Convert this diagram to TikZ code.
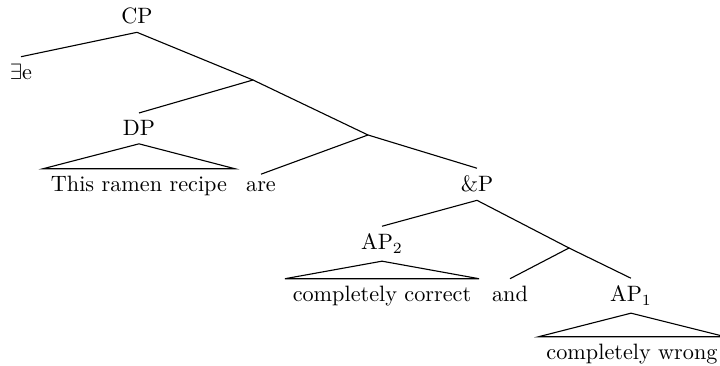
\documentclass[tikz,border=0pt]{standalone}
\begin{document}
\begin{tikzpicture}[x=0.45pt,y=-0.45pt,
  lbl/.style={anchor=base,inner sep=3.33pt},
  edge/.style={draw,line width=0.5pt}]
\useasboundingbox (0,0) rectangle (720,366);
% labels
\node[lbl] (cp) at (137,24) {CP};
\node[lbl] (ex) at (21,80) {$\exists$e};
\node[lbl] (dp) at (139,136) {DP};
\node[lbl] (dpt) at (139,192) {This ramen recipe};
\node[lbl] (are) at (261,192) {are};
\node[lbl] (andp) at (477,192) {\&P};
\node[lbl] (ap2) at (382,250) {AP$_2$};
\node[lbl] (ap2t) at (382,302) {completely correct};
\node[lbl] (and) at (510,302) {and};
\node[lbl] (ap1) at (631,302) {AP$_1$};
\node[lbl] (ap1t) at (632,360) {completely wrong};
% joints
\coordinate (j1) at (253,80);
\coordinate (j2) at (368,135);
\coordinate (j3) at (569,248);
% edges
\path[edge] (cp.south) -- (ex.north);
\path[edge] (cp.south) -- (j1);
\path[edge] (j1) -- (dp.north);
\path[edge] (j1) -- (j2);
\path[edge] (j2) -- (are.north);
\path[edge] (j2) -- (andp.north);
\path[edge] (andp.south) -- (ap2.north);
\path[edge] (andp.south) -- (j3);
\path[edge] (j3) -- (and.north);
\path[edge] (j3) -- (ap1.north);
% roofs
\path[edge] (dp.south) -- (dpt.north west) -- (dpt.north east) -- cycle;
\path[edge] (ap2.south) -- (ap2t.north west) -- (ap2t.north east) -- cycle;
\path[edge] (ap1.south) -- (ap1t.north west) -- (ap1t.north east) -- cycle;
\end{tikzpicture}
\end{document}
